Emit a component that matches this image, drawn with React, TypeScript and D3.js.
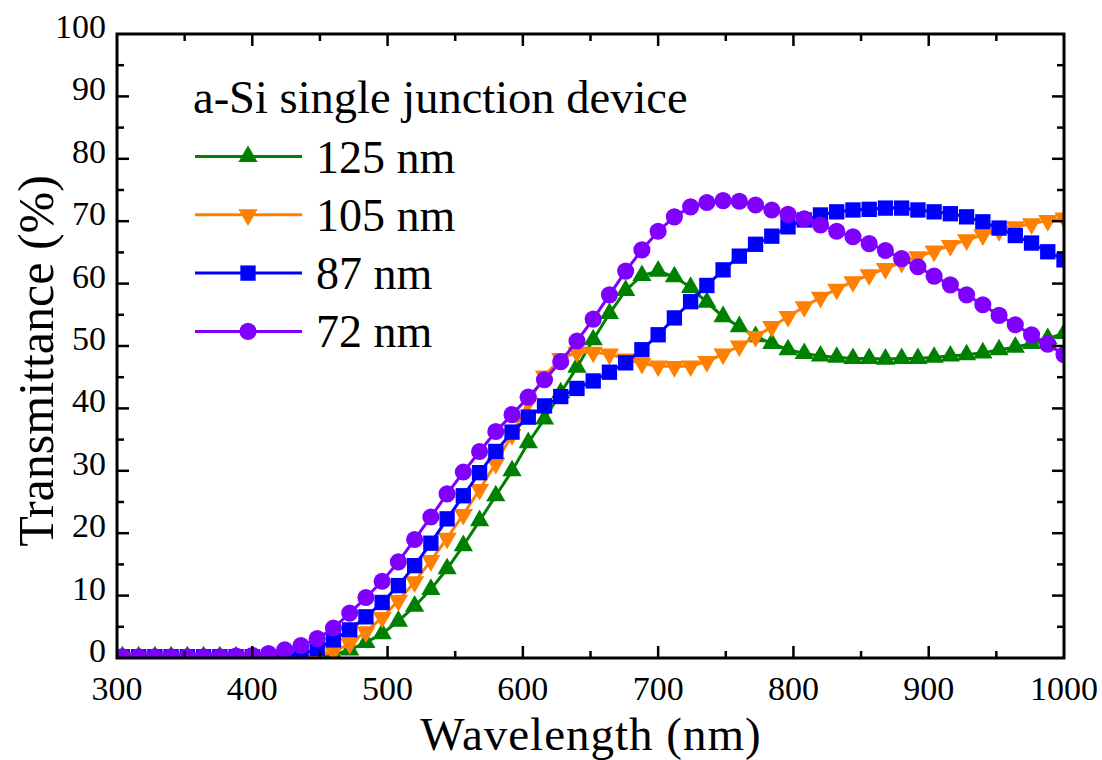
import { useEffect, useRef } from "react";
import * as d3 from "d3";

// wavelength sampling (nm)
const wavelengths = [
  304, 316, 328, 340, 352, 364, 376, 388, 400, 412, 424, 436, 448, 460, 472,
  484, 496, 508, 520, 532, 544, 556, 568, 580, 592, 604, 616, 628, 640, 652,
  664, 676, 688, 700, 712, 724, 736, 748, 760, 772, 784, 796, 808, 820, 832,
  844, 856, 868, 880, 892, 904, 916, 928, 940, 952, 964, 976, 988, 1000
];

const t125 = [
  0.2, 0.2, 0.2, 0.2, 0.2, 0.2, 0.2, 0.2, 0.2, 0.2, 0.2, 0.2, 0.2, 0.5, 1.3,
  2.5, 3.9, 5.9, 8.3, 11.0, 14.3, 18.0, 22.0, 26.0, 30.0, 34.5, 38.3, 42.5, 46.6, 51.0,
  55.2, 58.9, 61.3, 62.0, 61.1, 59.4, 57.0, 54.7, 53.1, 51.5, 50.4, 49.4, 48.8, 48.4, 48.2,
  48.0, 48.0, 47.9, 48.0, 48.0, 48.2, 48.4, 48.6, 48.9, 49.4, 49.8, 50.4, 51.2, 52.0
];

const t105 = [
  0.1, 0.1, 0.1, 0.1, 0.1, 0.1, 0.1, 0.1, 0.1, 0.1, 0.1, 0.1, 0.3, 1.0, 2.3,
  4.2, 6.5, 9.2, 12.2, 15.6, 19.2, 23.0, 27.0, 31.2, 35.8, 41.0, 45.2, 48.0, 49.0, 49.0,
  48.7, 47.9, 47.2, 46.8, 46.7, 46.8, 47.5, 48.7, 50.0, 51.5, 53.1, 54.7, 56.3, 57.8, 59.1,
  60.3, 61.4, 62.4, 63.4, 64.3, 65.2, 66.1, 67.0, 67.8, 68.5, 69.1, 69.6, 70.1, 70.5
];

const t87 = [
  0.2, 0.2, 0.2, 0.2, 0.2, 0.2, 0.2, 0.2, 0.2, 0.2, 0.3, 0.6, 1.5, 2.9, 4.5,
  6.6, 8.9, 11.6, 14.8, 18.4, 22.3, 26.0, 29.7, 33.1, 36.2, 38.6, 40.4, 41.9, 43.2, 44.4,
  45.8, 47.3, 49.4, 51.8, 54.5, 57.1, 59.7, 62.2, 64.4, 66.3, 67.6, 69.1, 70.2, 71.0, 71.5,
  71.8, 71.9, 72.1, 72.1, 71.8, 71.5, 71.2, 70.7, 69.9, 68.9, 67.7, 66.5, 65.1, 63.8
];

const t72 = [
  0.2, 0.2, 0.2, 0.2, 0.2, 0.2, 0.2, 0.3, 0.4, 0.7, 1.3, 2.0, 3.1, 4.8, 7.2,
  9.7, 12.3, 15.4, 19.0, 22.6, 26.3, 29.8, 33.1, 36.3, 39.0, 41.8, 44.6, 47.5, 50.8, 54.3,
  58.2, 62.0, 65.4, 68.4, 70.7, 72.3, 73.0, 73.3, 73.2, 72.6, 71.8, 71.1, 70.4, 69.4, 68.4,
  67.5, 66.4, 65.3, 64.0, 62.7, 61.2, 59.8, 58.2, 56.6, 54.9, 53.4, 51.8, 50.3, 48.6
];

const seriesNames = ["125 nm", "105 nm", "87 nm", "72 nm"];
const seriesValues = [t125, t105, t87, t72];
const seriesColors = ["#008000", "#ff8000", "#0000ff", "#8000ff"];
const seriesSymbols = ["triangle", "triangleDown", "square", "circle"];

const xMajor = [300, 400, 500, 600, 700, 800, 900, 1000];
const xMinor = [350, 450, 550, 650, 750, 850, 950];
const yMajor = [0, 10, 20, 30, 40, 50, 60, 70, 80, 90, 100];
const yMinor = [5, 15, 25, 35, 45, 55, 65, 75, 85, 95];

const legendTitle = "a-Si single junction device";

export default function App() {
  const ref = useRef(null);

  useEffect(() => {
    const svg = d3.select(ref.current);
    svg.selectAll("*").remove();

    const width = 1102;
    const height = 760;
    const left = 117, right = 1064, top = 34, bottom = 658;
    const font = "'Liberation Serif', 'Times New Roman', serif";

    svg.attr("width", width).attr("height", height);

    const x = d3.scaleLinear().domain([300, 1000]).range([left, right]);
    const y = d3.scaleLinear().domain([0, 100]).range([bottom, top]);

    svg.append("defs")
      .append("clipPath")
      .attr("id", "plot-clip")
      .append("rect")
      .attr("x", left)
      .attr("y", top)
      .attr("width", right - left)
      .attr("height", bottom - top);

    const symbolPath = (kind) => {
      if (kind === "square") return d3.symbol(d3.symbolSquare, 235)();
      if (kind === "circle") return d3.symbol(d3.symbolCircle, 230)();
      return d3.symbol(d3.symbolTriangle, 160)();
    };
    const symbolTransform = (kind, cx, cy) =>
      kind === "triangleDown"
        ? `translate(${cx},${cy}) rotate(180)`
        : `translate(${cx},${cy})`;

    const plot = svg.append("g").attr("clip-path", "url(#plot-clip)");

    const line = d3.line()
      .x((d, i) => x(wavelengths[i]))
      .y(d => y(d));

    seriesValues.forEach((vals, s) => {
      const g = plot.append("g");
      g.append("path")
        .attr("d", line(vals))
        .attr("fill", "none")
        .attr("stroke", seriesColors[s])
        .attr("stroke-width", 3);

      g.selectAll("path.marker")
        .data(vals)
        .join("path")
        .attr("class", "marker")
        .attr("d", symbolPath(seriesSymbols[s]))
        .attr("transform", (d, i) =>
          symbolTransform(seriesSymbols[s], x(wavelengths[i]), y(d)))
        .attr("fill", seriesColors[s]);
    });

    // frame
    svg.append("rect")
      .attr("x", left)
      .attr("y", top)
      .attr("width", right - left)
      .attr("height", bottom - top)
      .attr("fill", "none")
      .attr("stroke", "#000")
      .attr("stroke-width", 3);

    const ticks = svg.append("g").attr("stroke", "#000").attr("stroke-width", 2.5);
    const addXTicks = (vals, len) => {
      vals.forEach(v => {
        ticks.append("line").attr("x1", x(v)).attr("x2", x(v))
          .attr("y1", bottom).attr("y2", bottom - len);
        ticks.append("line").attr("x1", x(v)).attr("x2", x(v))
          .attr("y1", top).attr("y2", top + len);
      });
    };
    const addYTicks = (vals, len) => {
      vals.forEach(v => {
        ticks.append("line").attr("x1", left).attr("x2", left + len)
          .attr("y1", y(v)).attr("y2", y(v));
        ticks.append("line").attr("x1", right).attr("x2", right - len)
          .attr("y1", y(v)).attr("y2", y(v));
      });
    };
    addXTicks(xMajor.slice(1, -1), 12);
    addXTicks(xMinor, 7);
    addYTicks(yMajor.slice(1, -1), 12);
    addYTicks(yMinor, 7);

    svg.append("g")
      .selectAll("text")
      .data(xMajor)
      .join("text")
      .attr("x", d => x(d))
      .attr("y", 700)
      .attr("text-anchor", "middle")
      .attr("font-family", font)
      .attr("font-size", 34)
      .text(d => d);

    svg.append("g")
      .selectAll("text")
      .data(yMajor)
      .join("text")
      .attr("x", 106)
      .attr("y", d => y(d) + 4)
      .attr("text-anchor", "end")
      .attr("font-family", font)
      .attr("font-size", 34)
      .text(d => d);

    svg.append("text")
      .attr("x", 591)
      .attr("y", 749.5)
      .attr("text-anchor", "middle")
      .attr("font-family", font)
      .attr("font-size", 47)
      .attr("letter-spacing", 1)
      .text("Wavelength (nm)");

    svg.append("text")
      .attr("transform", "translate(53,361) rotate(-90)")
      .attr("text-anchor", "middle")
      .attr("font-family", font)
      .attr("font-size", 50)
      .text("Transmittance (%)");

    // legend
    const legend = svg.append("g");
    legend.append("text")
      .attr("x", 193)
      .attr("y", 113)
      .attr("font-family", font)
      .attr("font-size", 46.5)
      .text(legendTitle);

    seriesNames.forEach((name, s) => {
      const ly = 156.5 + s * 58.3;
      legend.append("line")
        .attr("x1", 195).attr("x2", 302)
        .attr("y1", ly).attr("y2", ly)
        .attr("stroke", seriesColors[s])
        .attr("stroke-width", 3);
      legend.append("path")
        .attr("d", symbolPath(seriesSymbols[s]))
        .attr("transform", symbolTransform(seriesSymbols[s], 248, ly))
        .attr("fill", seriesColors[s]);
      legend.append("text")
        .attr("x", 316)
        .attr("y", ly + 16)
        .attr("font-family", font)
        .attr("font-size", 46)
        .text(name);
    });
  }, []);

  return (
    <svg
      ref={ref}
      style={{ position: "absolute", left: 0, top: 0, display: "block", background: "#fff" }}
    ></svg>
  );
}
